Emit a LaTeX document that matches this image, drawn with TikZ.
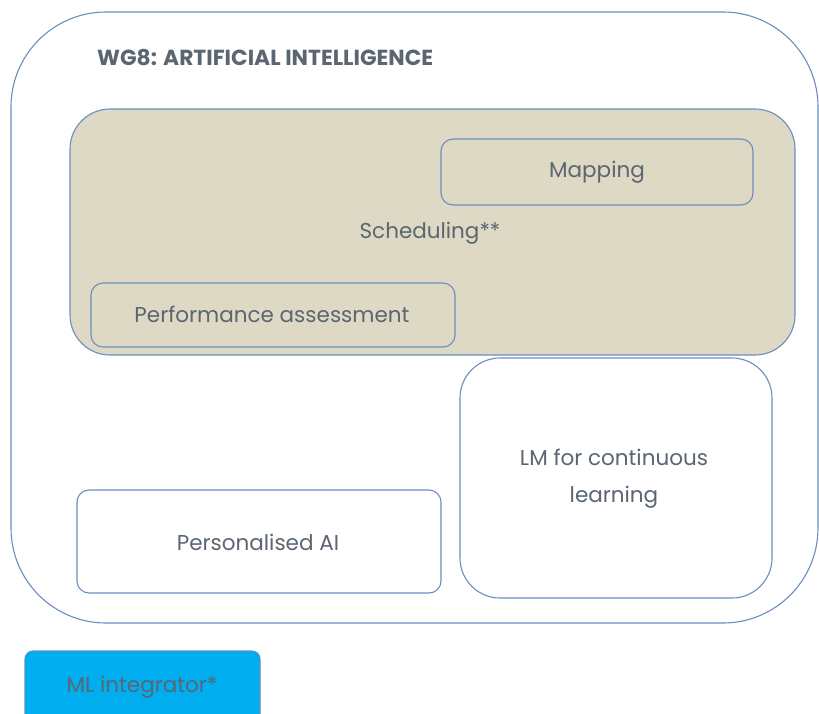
\documentclass[tikz,border=0pt]{standalone}
\usepackage{fontspec}
\setmainfont{Poppins}
\definecolor{edgeblue}{HTML}{6C8EBF}
\definecolor{tanfill}{HTML}{DDD9C4}
\definecolor{txtgray}{HTML}{5B6670}
\definecolor{mlblue}{HTML}{00AEEF}
\tikzset{
  box/.style={draw=edgeblue, line width=1.1pt, rounded corners=#1},
  lbl/.style={text=txtgray, font=\fontsize{21.5}{26}\selectfont, inner sep=0pt, align=center},
}
\begin{document}
\begin{tikzpicture}[x=1pt,y=-1pt]
\useasboundingbox (0,0) rectangle (819,713);
\clip (0,0) rectangle (819,713);
\fill[white] (0,0) rectangle (819,713);
% outer frame
\draw[box=95] (11,12) rectangle (818,623);
\node[lbl, font=\fontsize{21.8}{26}\selectfont\bfseries, anchor=west] (title) at (97,58) {WG8: ARTIFICIAL INTELLIGENCE};
% scheduling
\draw[box=40, fill=tanfill] (70,109) rectangle (795,355);
\node[lbl] (sched) at (430,233) {Scheduling**};
\draw[box=12] (441,139) rectangle (753,205);
\node[lbl] (map) at (597,172) {Mapping};
\draw[box=12] (91,283) rectangle (455,347);
\node[lbl] (perf) at (272,314) {Performance assessment};
% LM
\draw[box=40, fill=white] (460,358) rectangle (772,598);
\node[lbl, font=\fontsize{21.5}{37}\selectfont] (lm) at (614,479) {LM for continuous\\learning};
% personalised
\draw[box=12, fill=white] (77,490) rectangle (441,593);
\node[lbl] (pers) at (258,542) {Personalised AI};
% ML integrator
\draw[draw=edgeblue!80!mlblue, line width=1.1pt, fill=mlblue, rounded corners=8] (25,651) rectangle (260,730);
\node[lbl] (ml) at (142,687) {ML integrator*};
\end{tikzpicture}
\end{document}
